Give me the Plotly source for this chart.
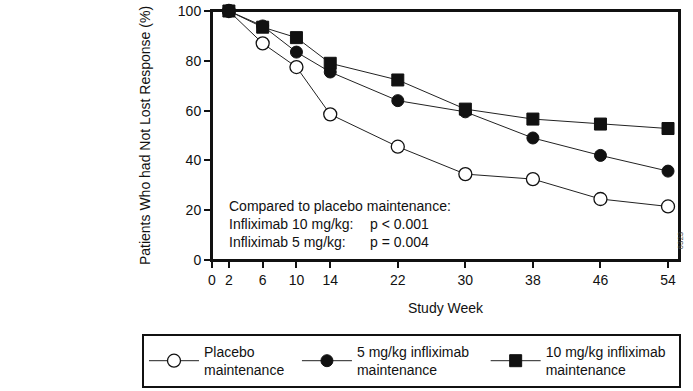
import plotly.graph_objects as go

weeks = [2, 6, 10, 14, 22, 30, 38, 46, 54]
placebo = [100, 87, 77.5, 58.5, 45.5, 34.5, 32.5, 24.5, 21.5]
mg5 = [100, 94, 83.5, 75.5, 64, 59.5, 49, 42, 35.7]
mg10 = [100, 93.5, 89.3, 79, 72.3, 60.6, 56.6, 54.6, 52.8]
xticks = [0, 2, 6, 10, 14, 22, 30, 38, 46, 54]
yticks = [0, 20, 40, 60, 80, 100]
names = ["Placebo<br>maintenance\u00a0\u00a0",
         "5 mg/kg infliximab\u00a0\u00a0\u00a0<br>maintenance",
         "10 mg/kg infliximab\u00a0\u00a0<br>maintenance"]

FONT = "Liberation Sans, Arial, sans-serif"
fig = go.Figure()
common = dict(mode="lines+markers", line=dict(color="#222", width=1), cliponaxis=False)
fig.add_trace(go.Scatter(x=weeks, y=placebo, name=names[0],
                         marker=dict(symbol="circle", size=13, color="white", line=dict(color="#111", width=1.3)), **common))
fig.add_trace(go.Scatter(x=weeks, y=mg5, name=names[1],
                         marker=dict(symbol="circle", size=12, color="#111", line=dict(color="#111", width=1)), **common))
fig.add_trace(go.Scatter(x=weeks, y=mg10, name=names[2],
                         marker=dict(symbol="square", size=12, color="#111", line=dict(color="#111", width=1)), **common))

fig.add_annotation(x=1.75, y=14.46, text="Compared to placebo maintenance:<br>Infliximab 10 mg/kg:<br>Infliximab 5 mg/kg:",
                   showarrow=False, xanchor="left", yanchor="middle", align="left",
                   font=dict(size=14, color="#111", family=FONT))
fig.add_annotation(x=18.5, y=14.46, text="\u00a0<br>p < 0.001<br>p = 0.004",
                   showarrow=False, xanchor="left", yanchor="middle", align="left",
                   font=dict(size=14, color="#111", family=FONT))

fig.add_annotation(xref="paper", yref="paper", x=1.017, y=0.036, text="6323", textangle=-90,
                   showarrow=False, font=dict(size=8, color="#444", family=FONT))

fig.add_shape(type="rect", xref="paper", yref="paper", x0=0, x1=1, y0=0, y1=1,
              line=dict(color="#111", width=2), layer="above")

fig.update_layout(
    width=693, height=391,
    margin=dict(l=212, r=14, t=11, b=131, autoexpand=False),
    paper_bgcolor="white", plot_bgcolor="white",
    font=dict(family=FONT, size=14, color="#111"),
    showlegend=True,
    legend=dict(orientation="h", x=-0.1499, y=-0.2972,
                xanchor="left", yanchor="top",
                bordercolor="#111", borderwidth=2, font=dict(size=14, family=FONT),
                itemwidth=50),
    xaxis=dict(range=[0, 55.3], tickmode="array", tickvals=xticks, ticks="outside", ticklen=6,
               tickwidth=2, tickcolor="#111", showline=True, linecolor="#111", linewidth=2,
               mirror=True, showgrid=False, zeroline=False, automargin=False,
               title=dict(text="Study Week", standoff=16, font=dict(size=14))),
    yaxis=dict(range=[0, 100], tickmode="array", tickvals=yticks, ticks="outside", ticklen=6,
               tickwidth=2, tickcolor="#111", showline=True, linecolor="#111", linewidth=2,
               mirror=True, showgrid=False, zeroline=False, automargin=False,
               title=dict(text="Patients Who had Not Lost Response (%)", standoff=24, font=dict(size=14))),
)
fig.write_html("out.html", config={"displayModeBar": False},
               post_script="document.body.style.margin='0px';")
